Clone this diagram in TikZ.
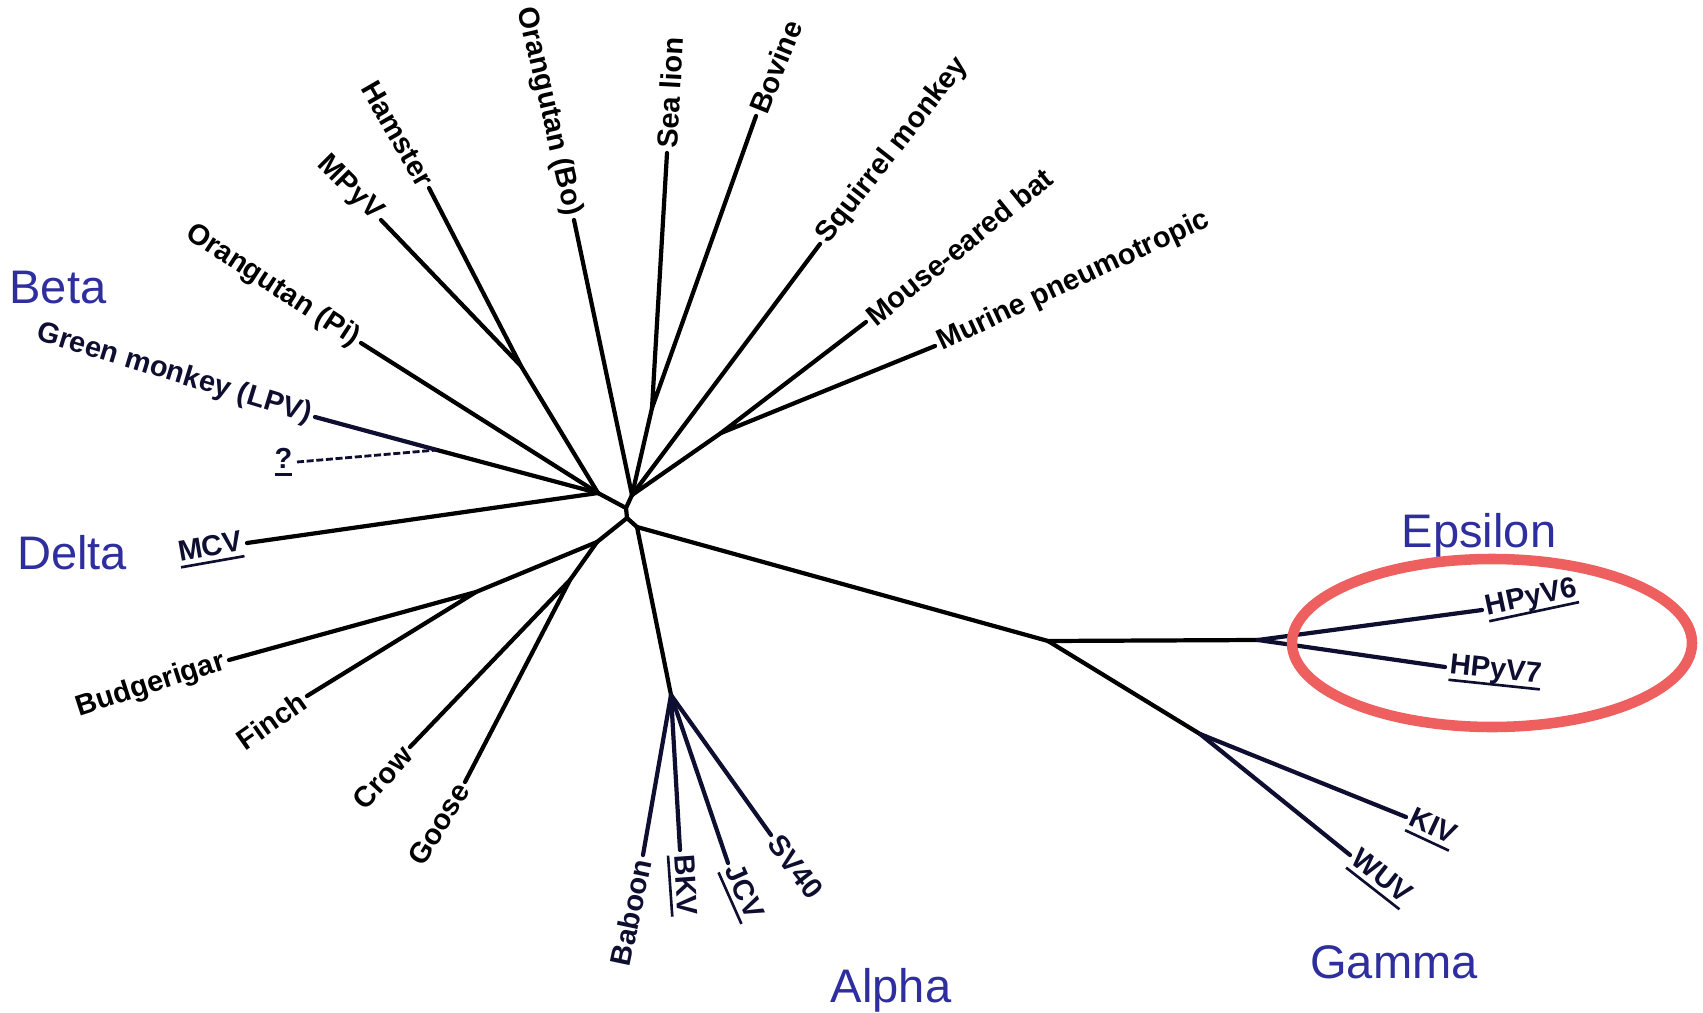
\documentclass[tikz,border=0pt]{standalone}
\usepackage{fontspec}
\setmainfont{Liberation Sans}
\definecolor{grpblue}{RGB}{46,46,158}
\definecolor{inknavy}{RGB}{14,14,48}
\definecolor{ringred}{RGB}{238,96,96}
\newcommand{\ulab}[1]{\setbox0=\hbox{#1}\rlap{\rule[-4.2pt]{\wd0}{1.5pt}}\box0}

\begin{document}
\begin{tikzpicture}[x=0.02cm, y=-0.02cm,
    branch/.style={line width=2.4pt, line cap=round, line join=round},
    leaf/.style={font=\fontsize{16.5}{18}\selectfont\bfseries, inner sep=2.5pt},
    grp/.style={font=\fontsize{26.8}{30}\selectfont, text=grpblue, inner sep=0pt, anchor=base}]
    \useasboundingbox (0,0) rectangle (1703,1013);
    % inner nodes
    \coordinate (C0) at (627,518);
    \coordinate (Nmid) at (626,508);
    \coordinate (Nup) at (632,495);
    \coordinate (Nleft) at (598,493);
    \coordinate (GJ) at (437,450);
    \coordinate (HJ) at (521,366);
    \coordinate (SB) at (652,408);
    \coordinate (MM) at (721,433);
    \coordinate (Nbird) at (597,542);
    \coordinate (BF) at (476,592);
    \coordinate (CG) at (570,580);
    \coordinate (Nae) at (637,527);
    \coordinate (AJ) at (671,695);
    \coordinate (EJ) at (1048,641);
    \coordinate (EpsJ) at (1258,640);
    \coordinate (GamJ) at (1200,734);
    % tips
    \coordinate (tPi) at (361,343);
    \coordinate (tGreen) at (315,417);
    \coordinate (tQ) at (297,462);
    \coordinate (tMCV) at (247,543);
    \coordinate (tMPyV) at (381,220);
    \coordinate (tHam) at (429,188);
    \coordinate (tBo) at (574,220);
    \coordinate (tSea) at (667,153);
    \coordinate (tBov) at (756,116);
    \coordinate (tSqu) at (820,244);
    \coordinate (tBat) at (866,322);
    \coordinate (tMur) at (935,346);
    \coordinate (tBud) at (229,660);
    \coordinate (tFin) at (307,696);
    \coordinate (tCrow) at (410,747);
    \coordinate (tGoose) at (465,782);
    \coordinate (tBab) at (643,855);
    \coordinate (tBKV) at (680,850);
    \coordinate (tJCV) at (728,863);
    \coordinate (tSV) at (771,835);
    \coordinate (tH6) at (1482,610);
    \coordinate (tH7) at (1445,667);
    \coordinate (tKIV) at (1406,817);
    \coordinate (tWUV) at (1350,855);

    % beta and delta
    \draw[branch] (tPi) -- (Nleft);
    \draw[branch, inknavy] (tGreen) -- (GJ);
    \draw[branch] (GJ) -- (Nleft);
    \draw[inknavy, line width=1.6pt, dash pattern=on 4pt off 1.5pt] (tQ) -- (GJ);
    \draw[branch] (tMCV) -- (Nleft);
    \draw[branch] (tMPyV) -- (HJ) -- (tHam);
    \draw[branch] (HJ) -- (Nleft);
    \draw[branch] (tBo) -- (Nup);
    \draw[branch] (tSea) -- (SB) -- (tBov);
    \draw[branch] (SB) -- (Nup);
    \draw[branch] (tSqu) -- (Nup);
    \draw[branch] (tBat) -- (MM) -- (tMur);
    \draw[branch] (MM) -- (Nup);
    \draw[branch] (Nleft) -- (Nmid) -- (Nup);
    \draw[branch] (Nmid) -- (C0);
    % birds
    \draw[branch] (C0) -- (Nbird) -- (BF);
    \draw[branch] (tBud) -- (BF) -- (tFin);
    \draw[branch] (Nbird) -- (CG);
    \draw[branch] (tCrow) -- (CG) -- (tGoose);
    % alpha, epsilon, gamma
    \draw[branch] (C0) -- (Nae) -- (EJ) -- (EpsJ);
    \draw[branch] (Nae) -- (AJ);
    \draw[branch] (EJ) -- (GamJ);
    \draw[branch, inknavy] (AJ) -- (tBab);
    \draw[branch, inknavy] (AJ) -- (tBKV);
    \draw[branch, inknavy] (AJ) -- (tJCV);
    \draw[branch, inknavy] (AJ) -- (tSV);
    \draw[branch, inknavy] (EpsJ) -- (tH6);
    \draw[branch, inknavy] (EpsJ) -- (tH7);
    \draw[branch, inknavy] (GamJ) -- (tKIV);
    \draw[branch, inknavy] (GamJ) -- (tWUV);

    \draw[ringred, line width=6pt] (1492,643) ellipse [x radius=200, y radius=84];

    \node[leaf, anchor=east, rotate=-33] (orpi) at (tPi) {Orangutan (Pi)};
    \node[leaf, anchor=east, rotate=-17, text=inknavy] (green) at (tGreen) {Green monkey (LPV)};
    \node[leaf, anchor=east, text=inknavy] (qmark) at (tQ) {\ulab{?}};
    \node[leaf, anchor=east, rotate=10, text=inknavy] (mcv) at (tMCV) {\ulab{MCV}};
    \node[leaf, anchor=east, rotate=-45] (mpyv) at (tMPyV) {MPyV};
    \node[leaf, anchor=east, rotate=-60] (hamster) at (tHam) {Hamster};
    \node[leaf, anchor=east, rotate=-77] (orbo) at (tBo) {Orangutan (Bo)};
    \node[leaf, anchor=west, rotate=87] (sealion) at (tSea) {Sea lion};
    \node[leaf, anchor=west, rotate=68] (bovine) at (tBov) {Bovine};
    \node[leaf, anchor=west, rotate=52] (squirrel) at (tSqu) {Squirrel monkey};
    \node[leaf, anchor=west, rotate=39] (bat) at (tBat) {Mouse-eared bat};
    \node[leaf, anchor=west, rotate=25] (murine) at (tMur) {Murine pneumotropic};
    \node[leaf, anchor=east, rotate=18] (budgie) at (tBud) {Budgerigar};
    \node[leaf, anchor=east, rotate=35] (finch) at (tFin) {Finch};
    \node[leaf, anchor=east, rotate=48] (crow) at (tCrow) {Crow};
    \node[leaf, anchor=east, rotate=58] (goose) at (tGoose) {Goose};
    \node[leaf, anchor=east, rotate=78, text=inknavy] (baboon) at (tBab) {Baboon};
    \node[leaf, anchor=west, rotate=-86, text=inknavy] (bkv) at (tBKV) {\ulab{BKV}};
    \node[leaf, anchor=west, rotate=-66, text=inknavy] (jcv) at (tJCV) {\ulab{JCV}};
    \node[leaf, anchor=west, rotate=-52, text=inknavy] (sv40) at (tSV) {SV40};
    \node[leaf, anchor=west, rotate=12, text=inknavy] (hpyv6) at (tH6) {\ulab{HPyV6}};
    \node[leaf, anchor=west, rotate=-6, text=inknavy] (hpyv7) at (tH7) {\ulab{HPyV7}};
    \node[leaf, anchor=west, rotate=-25, text=inknavy] (kiv) at (tKIV) {\ulab{KIV}};
    \node[leaf, anchor=west, rotate=-38, text=inknavy] (wuv) at (tWUV) {\ulab{WUV}};

    \node[grp] (beta) at (58,304) {Beta};
    \node[grp] (delta) at (72,569) {Delta};
    \node[grp] (epsilon) at (1479,547) {Epsilon};
    \node[grp] (gamma) at (1394,978) {Gamma};
    \node[grp] (alpha) at (891,1002) {Alpha};
\end{tikzpicture}
\end{document}
